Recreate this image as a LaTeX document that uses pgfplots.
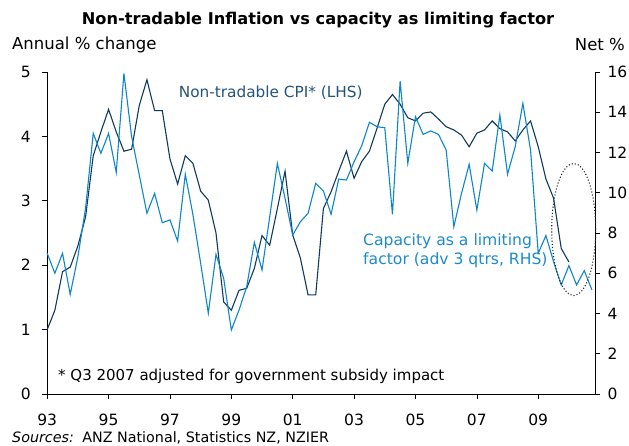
\documentclass[border=0pt]{standalone}
\usepackage{pgfplots}
\pgfplotsset{compat=1.18}
\usepackage{fontspec}
\setmainfont{DejaVu Sans}
\definecolor{navy}{HTML}{0F3A5E}
\definecolor{lblue}{HTML}{0B86C8}
\definecolor{navytxt}{HTML}{245478}
\definecolor{bluetxt}{HTML}{1B8BCB}
\newcommand{\fs}{\fontsize{15.5}{18}\selectfont}
\newcommand{\fa}{\fontsize{15.6}{19}\selectfont}
\begin{document}
\begin{tikzpicture}[x=1pt,y=1pt]
\useasboundingbox (-47.2,-52) rectangle (581.8,394);
\pgfplotsset{common/.style={
  at={(0,0)}, anchor=south west,
  width=547.8pt, height=322pt, scale only axis,
  xmin=1993, xmax=2010.85,
  tick align=outside, major tick length=5pt,
  tick style={black, line width=0.6pt},
  axis line style={-, line width=0.8pt, black},
  ticklabel style={font=\fs},
  /pgf/number format/assume math mode=true,
  clip=false,
}}
\begin{axis}[common,
  ymin=0, ymax=5,
  axis x line*=bottom, axis y line*=left,
  xtick={1993,1995,1997,1999,2001,2003,2005,2007,2009},
  xticklabels={93,95,97,99,01,03,05,07,09},
  x tick label style={yshift=-11pt},
  ytick={0,1,2,3,4,5},
  y tick label style={xshift=-8pt},
]
\addplot[navy, line width=1.1pt, mark=none] coordinates {
(1993.00,1.00) (1993.25,1.30) (1993.50,1.90) (1993.75,1.97)
(1994.00,2.30) (1994.25,2.75) (1994.50,3.70) (1994.75,4.07)
(1995.00,4.42) (1995.25,4.07) (1995.50,3.77) (1995.75,3.80)
(1996.00,4.48) (1996.25,4.88) (1996.50,4.40) (1996.75,4.40)
(1997.00,3.65) (1997.25,3.26) (1997.50,3.70) (1997.75,3.58)
(1998.00,3.15) (1998.25,3.01) (1998.50,2.50) (1998.75,1.43)
(1999.00,1.30) (1999.25,1.61) (1999.50,1.64) (1999.75,1.95)
(2000.00,2.46) (2000.25,2.31) (2000.50,2.88) (2000.75,3.46)
(2001.00,2.47) (2001.25,2.11) (2001.50,1.54) (2001.75,1.54)
(2002.00,2.88) (2002.25,3.14) (2002.50,3.46) (2002.75,3.77)
(2003.00,3.35) (2003.25,3.61) (2003.50,3.77) (2003.75,4.13)
(2004.00,4.50) (2004.25,4.65) (2004.50,4.50) (2004.75,4.29)
(2005.00,4.24) (2005.25,4.36) (2005.50,4.38) (2005.75,4.27)
(2006.00,4.15) (2006.25,4.10) (2006.50,4.02) (2006.75,3.84)
(2007.00,4.05) (2007.25,4.10) (2007.50,4.24) (2007.75,4.12)
(2008.00,4.07) (2008.25,3.93) (2008.50,4.10) (2008.75,4.24)
(2009.00,3.84) (2009.25,3.34) (2009.50,3.04) (2009.75,2.26)
(2010.00,2.05)
};
\end{axis}
\begin{axis}[common,
  ymin=0, ymax=16,
  axis x line=none, axis y line*=right,
  ytick={0,2,4,6,8,10,12,14,16},
  y tick label style={xshift=4pt},
]
\addplot[lblue, line width=1.1pt, mark=none] coordinates {
(1993.00,6.99) (1993.25,6.00) (1993.50,6.99) (1993.75,4.95)
(1994.00,6.82) (1994.25,9.22) (1994.50,12.95) (1994.75,11.96)
(1995.00,12.95) (1995.25,11.01) (1995.50,15.93) (1995.75,12.79)
(1996.00,10.88) (1996.25,8.98) (1996.50,9.97) (1996.75,8.51)
(1997.00,8.65) (1997.25,7.60) (1997.50,10.92) (1997.75,8.90)
(1998.00,6.50) (1998.25,4.01) (1998.50,6.94) (1998.75,5.75)
(1999.00,3.18) (1999.25,4.17) (1999.50,5.33) (1999.75,7.54)
(2000.00,6.16) (2000.25,8.80) (2000.50,11.46) (2000.75,9.72)
(2001.00,7.90) (2001.25,8.56) (2001.50,8.98) (2001.75,10.47)
(2002.00,10.09) (2002.25,8.93) (2002.50,10.68) (2002.75,10.63)
(2003.00,11.54) (2003.25,12.34) (2003.50,13.50) (2003.75,13.28)
(2004.00,13.23) (2004.25,8.93) (2004.50,15.55) (2004.75,11.46)
(2005.00,13.78) (2005.25,12.90) (2005.50,13.07) (2005.75,12.90)
(2006.00,12.12) (2006.25,8.31) (2006.50,9.97) (2006.75,11.41)
(2007.00,9.14) (2007.25,11.46) (2007.50,11.08) (2007.75,13.86)
(2008.00,10.92) (2008.25,12.29) (2008.50,14.44) (2008.75,12.12)
(2009.00,6.99) (2009.25,7.87) (2009.50,6.58) (2009.75,5.42)
(2010.00,6.38) (2010.25,5.42) (2010.50,6.13) (2010.75,5.17)
};
\end{axis}
% dotted ellipse highlight
\draw[dotted, line width=1.1pt, black!85] (526.5,164.5) ellipse [x radius=22, y radius=66];
% texts
\node[font=\fontsize{16.2}{19}\selectfont\bfseries] at (270.8,374) {Non-tradable Inflation vs capacity as limiting factor};
\node[font=\fontsize{16.5}{19}\selectfont, anchor=west, inner sep=0pt] at (-35.2,349) {Annual \% change};
\node[font=\fontsize{16.5}{19}\selectfont, anchor=east, inner sep=0pt] at (577.8,349) {Net \%};
\node[font=\fontsize{14.3}{17}\selectfont, anchor=west, inner sep=0pt] at (-35.2,-44) {\textit{Sources:}\, ANZ National, Statistics NZ, NZIER};
\node[font=\fontsize{15}{18}\selectfont, anchor=west, inner sep=0pt] at (10.8,18) {* Q3 2007 adjusted for government subsidy impact};
\node[font=\fontsize{15.3}{18}\selectfont, text=navytxt, anchor=west, inner sep=0pt] at (131.5,301) {Non-tradable CPI* (LHS)};
\node[font=\fa, text=bluetxt, anchor=north west, inner sep=0pt, align=left] at (315.8,161) {Capacity as a limiting\\factor (adv 3 qtrs, RHS)};
\end{tikzpicture}
\end{document}
